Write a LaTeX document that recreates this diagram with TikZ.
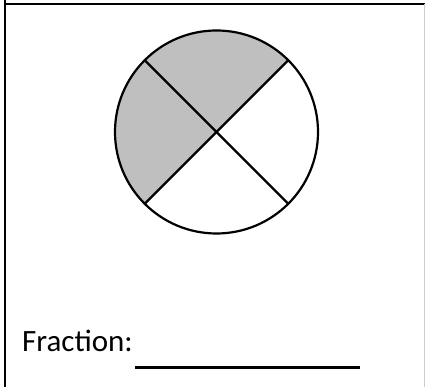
\documentclass[tikz,border=0pt]{standalone}
\usepackage{fontspec}
\setmainfont{Carlito}
\usetikzlibrary{positioning,calc,backgrounds}
\tikzset{
  frm/.style={line width=2pt,black},
  pie/.style={circle,draw,line width=2.2pt,minimum size=203pt,inner sep=0pt,outer sep=0pt},
  shd/.style={fill=black!25},
  cut/.style={line width=2.2pt,black},
  lbl/.style={font=\fontsize{31}{37}\selectfont,inner sep=0pt,anchor=base west},
  rul/.style={line width=3pt,black}
}
\begin{document}
\begin{tikzpicture}[x=1pt,y=1pt]
  \useasboundingbox (0,0) rectangle (425,387);
  % frame
  \draw[frm] (5,0) -- (5,387);
  \draw[frm] (5,382.5) -- (425,382.5);
  \draw[black!20,line width=1pt] (424.5,0) -- (424.5,382.5);

  % circle in quarters, two shaded
  \node[pie] (pc) at (216.5,255) {};
  \begin{scope}[on background layer]
    \fill[shd] (pc.center) -- (pc.45) arc[start angle=45,end angle=225,radius=101.5] -- cycle;
  \end{scope}
  \draw[cut] (pc.45) -- (pc.225);
  \draw[cut] (pc.135) -- (pc.315);

  % answer line
  \node[lbl] (frac) at (22,35) {Fraction:};
  \coordinate (ula) at (135,19);
  \coordinate (ulb) at (360,19);
  \draw[rul] (ula) -- (ulb);
\end{tikzpicture}
\end{document}
